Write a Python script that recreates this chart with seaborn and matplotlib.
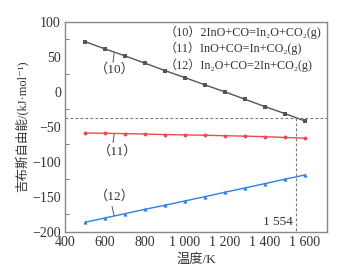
import matplotlib
matplotlib.use("Agg")
import matplotlib.pyplot as plt
import matplotlib.ticker as mticker
import seaborn as sns
import pandas as pd

# Data
temps = [500, 600, 700, 800, 900, 1000, 1100, 1200, 1300, 1400, 1500, 1600]
dg_10 = [71.4, 61.0, 51.0, 40.6, 30.0, 20.0, 9.6, -0.4, -10.9, -21.4, -31.4, -41.9]
dg_11 = [-59.0, -59.5, -60.0, -60.6, -61.3, -61.8, -62.3, -63.0, -63.6, -64.3, -65.5, -66.5]
dg_12 = [-186.6, -180.4, -174.3, -168.0, -162.3, -156.1, -150.0, -143.7, -137.6, -131.4, -125.1, -119.0]
cross_t = 1554
cross_g = -37
reactions = [
    "（10）2InO+CO=In₂O+CO₂(g)",
    "（11）InO+CO=In+CO₂(g)",
    "（12）In₂O+CO=2In+CO₂(g)",
]
xticks = [400, 600, 800, 1000, 1200, 1400, 1600]
yticks = [-200, -150, -100, -50, 0, 50, 100]

sns.set_style("white")
plt.rcParams["font.family"] = ["Liberation Serif", "DejaVu Serif", "Noto Sans CJK SC"]

df = pd.DataFrame({"T": temps, "g10": dg_10, "g11": dg_11, "g12": dg_12})

fig = plt.figure(figsize=(3.5, 2.7), dpi=100)
ax = fig.add_axes([0.186, 0.142, 0.748, 0.778])

sns.lineplot(data=df, x="T", y="g10", color="#555555", marker="s", markersize=2.5,
             markeredgewidth=0, linewidth=1.0, ax=ax)
sns.lineplot(data=df, x="T", y="g11", color="#f0484e", marker="o", markersize=2.8,
             markeredgewidth=0, linewidth=1.0, ax=ax)
sns.lineplot(data=df, x="T", y="g12", color="#2f7fe0", marker="^", markersize=3,
             markeredgewidth=0, linewidth=1.0, ax=ax)

# reference lines at the crossing
ax.axhline(cross_g, color="#777777", linestyle=(0, (2.5, 2)), linewidth=0.8)
ax.plot([cross_t, cross_t], [cross_g, -200], color="#777777",
        linestyle=(0, (2.5, 2)), linewidth=0.8)
ax.text(cross_t - 15, -186, "1 554", ha="right", va="center", fontsize=9.5, color="#333333")

# curve labels with short leaders
ax.plot([645, 640], [55, 42], color="#555555", linewidth=0.7)
ax.text(647, 31, "（10）", ha="center", va="center", fontsize=9.5, color="#333333")
ax.plot([645, 640], [-61, -73], color="#555555", linewidth=0.7)
ax.text(662, -86, "（11）", ha="center", va="center", fontsize=9.5, color="#333333")
ax.plot([635, 645], [-164, -177], color="#555555", linewidth=0.7)
ax.text(650, -150, "（12）", ha="center", va="center", fontsize=9.5, color="#333333")

for i, txt in enumerate(reactions):
    ax.text(900, 85 - i * 23.5, txt, ha="left", va="center", fontsize=8.7, color="#333333")

ax.set_xlim(400, 1710)
ax.set_ylim(-200, 100)
ax.set_xticks(xticks)
ax.set_yticks(yticks)
ax.xaxis.set_major_formatter(mticker.FuncFormatter(
    lambda v, p: f"{int(v):,}".replace(",", " ")))
ax.yaxis.set_minor_locator(mticker.FixedLocator([75, 25, -25, -75, -125, -175]))
ax.tick_params(axis="x", which="major", direction="in", length=3, color="#666666",
               labelsize=10, labelcolor="#333333", pad=3)
ax.tick_params(axis="y", which="major", length=0, labelsize=10, labelcolor="#333333", pad=3)
ax.tick_params(axis="y", which="minor", direction="in", length=3, color="#666666", left=True)

for sp in ax.spines.values():
    sp.set_color("#888888")
    sp.set_linewidth(1.0)

ax.set_xlabel("温度/K", fontsize=9.5, color="#333333", labelpad=3)
ax.set_ylabel("吉布斯自由能/(kJ·mol⁻¹)", fontsize=9, color="#333333", labelpad=3)

fig.savefig("out.png", dpi=100)
